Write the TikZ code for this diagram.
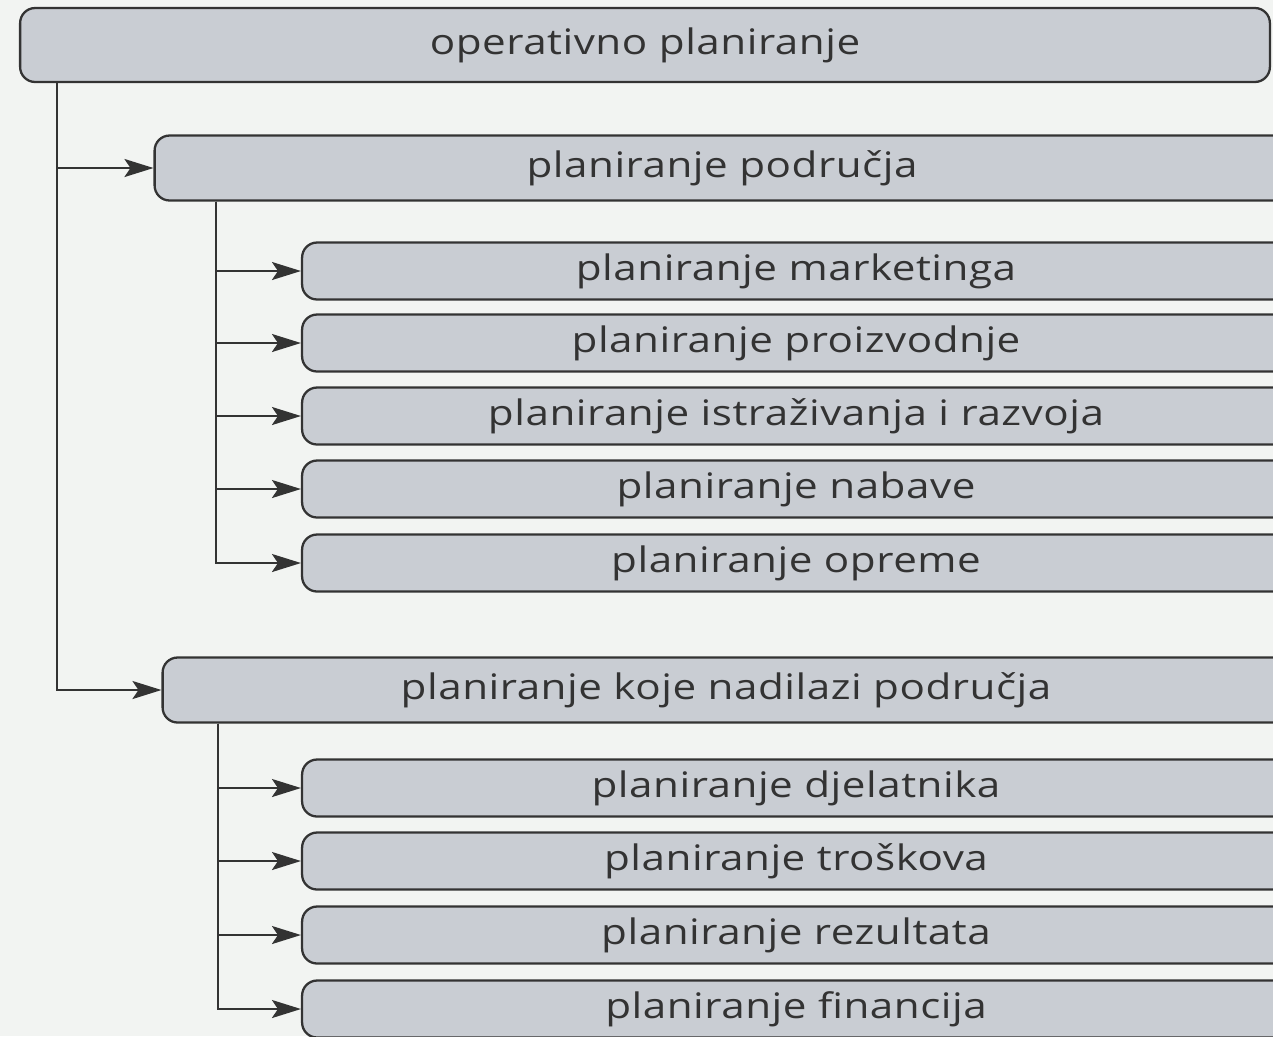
\documentclass[tikz,border=0pt]{standalone}
\usepackage{fontspec}
\setmainfont{Open Sans}[FakeStretch=1.2,LetterSpace=1.5]
\usetikzlibrary{arrows.meta}
\definecolor{paper}{HTML}{F2F4F2}
\definecolor{boxfill}{HTML}{C9CDD3}
\definecolor{ink}{HTML}{333333}
\tikzset{
  planbox/.style={draw=ink,line width=1.3pt,fill=boxfill,rounded corners=0.3cm,
    text=ink,font=\fontsize{20}{24}\selectfont,inner sep=0pt},
  subbox/.style={planbox,minimum width=19.76cm,minimum height=1.14cm},
  link/.style={draw=ink,line width=1.3pt,-{Stealth[length=0.58cm,width=0.36cm,inset=0.12cm]}},
}
\begin{document}
\begin{tikzpicture}[x=0.02cm,y=-0.02cm]
      \fill[paper] (0,0) rectangle (1273,1036);
      \useasboundingbox (0,0) rectangle (1273,1036);
      \clip (0,0) rectangle (1273,1036);
      % top level
      \node[planbox,minimum width=25cm,minimum height=1.48cm] (oper) at (645,45) {operativno planiranje};
      % two main groups
      \node[planbox,minimum width=22.7cm,minimum height=1.3cm] (podr) at (722,168) {planiranje područja};
      \node[planbox,minimum width=22.54cm,minimum height=1.3cm] (nadil) at (726,690) {planiranje koje nadilazi područja};
      % planiranje područja
      \node[subbox] (mark) at (796,271) {planiranje marketinga};
      \node[subbox] (proiz) at (796,343) {planiranje proizvodnje};
      \node[subbox] (istr) at (796,416) {planiranje istraživanja i razvoja};
      \node[subbox] (nab) at (796,489) {planiranje nabave};
      \node[subbox] (opr) at (796,563) {planiranje opreme};
      % planiranje koje nadilazi područja
      \node[subbox] (djel) at (796,788) {planiranje djelatnika};
      \node[subbox] (tros) at (796,861) {planiranje troškova};
      \node[subbox] (rez) at (796,935) {planiranje rezultata};
      \node[subbox] (fin) at (796,1009) {planiranje financija};
      % connectors
      \coordinate (t0) at (oper.south -| 57,0);
      \coordinate (p0) at (podr.south -| 216,0);
      \coordinate (n0) at (nadil.south -| 218,0);
      \draw[link] (t0) |- (podr);
      \draw[link] (t0) |- (nadil);
      \foreach \n in {mark,proiz,istr,nab,opr}
        \draw[link] (p0) |- (\n);
      \foreach \n in {djel,tros,rez,fin}
        \draw[link] (n0) |- (\n);
\end{tikzpicture}
\end{document}
